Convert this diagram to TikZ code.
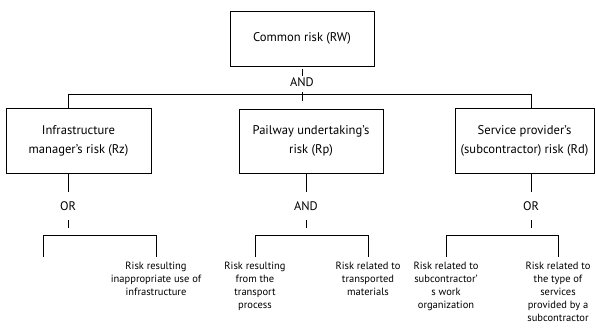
\documentclass[tikz,border=0pt]{standalone}
\usepackage{fontspec}
\setmainfont{PT Sans}
\begin{document}
\begin{tikzpicture}[x=1pt, y=-1pt, line width=0.9pt,
    riskbox/.style={shape=rectangle, draw=black, align=center, inner sep=0pt,
      font=\fontsize{12.6}{19}\selectfont},
    gate/.style={inner sep=0pt, font=\fontsize{12.4}{14}\selectfont},
    leaf/.style={anchor=north, align=center, inner xsep=0pt, inner ysep=5pt,
      font=\fontsize{10.5}{13}\selectfont}]
  \useasboundingbox (0,0) rectangle (596,327);

  % risk boxes
  \node[riskbox, minimum width=144pt, minimum height=55pt] (rw) at (302,38.5) {Common risk (RW)};
  \node[riskbox, minimum width=145pt, minimum height=65pt] (rz) at (78.5,140.5) {Infrastructure\\manager’s risk (Rz)};
  \node[riskbox, minimum width=144pt, minimum height=64pt] (rp) at (311,141) {Pailway undertaking’s\\risk (Rp)};
  \node[riskbox, minimum width=139pt, minimum height=65pt] (rd) at (524.5,140.5) {Service provider’s\\(subcontractor) risk (Rd)};

  % gates
  \node[gate] (and0) at (302,82) {AND};
  \node[gate] (or1) at (68,206) {OR};
  \node[gate] (and2) at (306,206) {AND};
  \node[gate] (or3) at (531,206) {OR};

  % leaves
  \coordinate (l1) at (43,257);
  \node[leaf] (l2) at (156,257) {Risk resulting\\inappropriate use of\\infrastructure};
  \node[leaf] (l3) at (255,257) {Risk resulting\\from the\\transport\\process};
  \node[leaf] (l4) at (368,257) {Risk related to\\transported\\materials};
  \node[leaf] (l5) at (446,257) {Risk related to\\subcontractor’\\s work\\organization};
  \node[leaf] (l6) at (558,257) {Risk related to\\the type of\\services\\provided by a\\subcontractor};

  % junctions
  \coordinate (j1) at (68,94);
  \coordinate (j3) at (531,94);
  \coordinate (t0) at (302,101);
  \coordinate (t1) at (68,228);
  \coordinate (t2) at (306,228);
  \coordinate (t3) at (531,228);
  \coordinate (bar) at (0,235);

  % top level
  \path [-] (rw) edge[shorten <=2.5pt, shorten >=1pt] (and0);
  \path [-] (and0) edge[shorten <=5pt] (t0);
  \draw (rz.north -| j1) -- (j1) -- (j3) -- (rd.north -| j3);

  % second level
  \path [-] (rz.south -| or1) edge[shorten >=9pt] (or1);
  \path [-] (rp.south -| and2) edge[shorten >=9pt] (and2);
  \path [-] (rd.south -| or3) edge[shorten >=9pt] (or3);
  \path [-] (or1) edge[shorten <=9pt] (t1);
  \path [-] (and2) edge[shorten <=9pt] (t2);
  \path [-] (or3) edge[shorten <=9pt] (t3);

  % brackets
  \draw (l1) -- (l1 |- bar) -- (l2.north |- bar) -- (l2.north);
  \draw (l3.north) -- (l3.north |- bar) -- (l4.north |- bar) -- (l4.north);
  \draw (l5.north) -- (l5.north |- bar) -- (l6.north |- bar) -- (l6.north);
\end{tikzpicture}
\end{document}
